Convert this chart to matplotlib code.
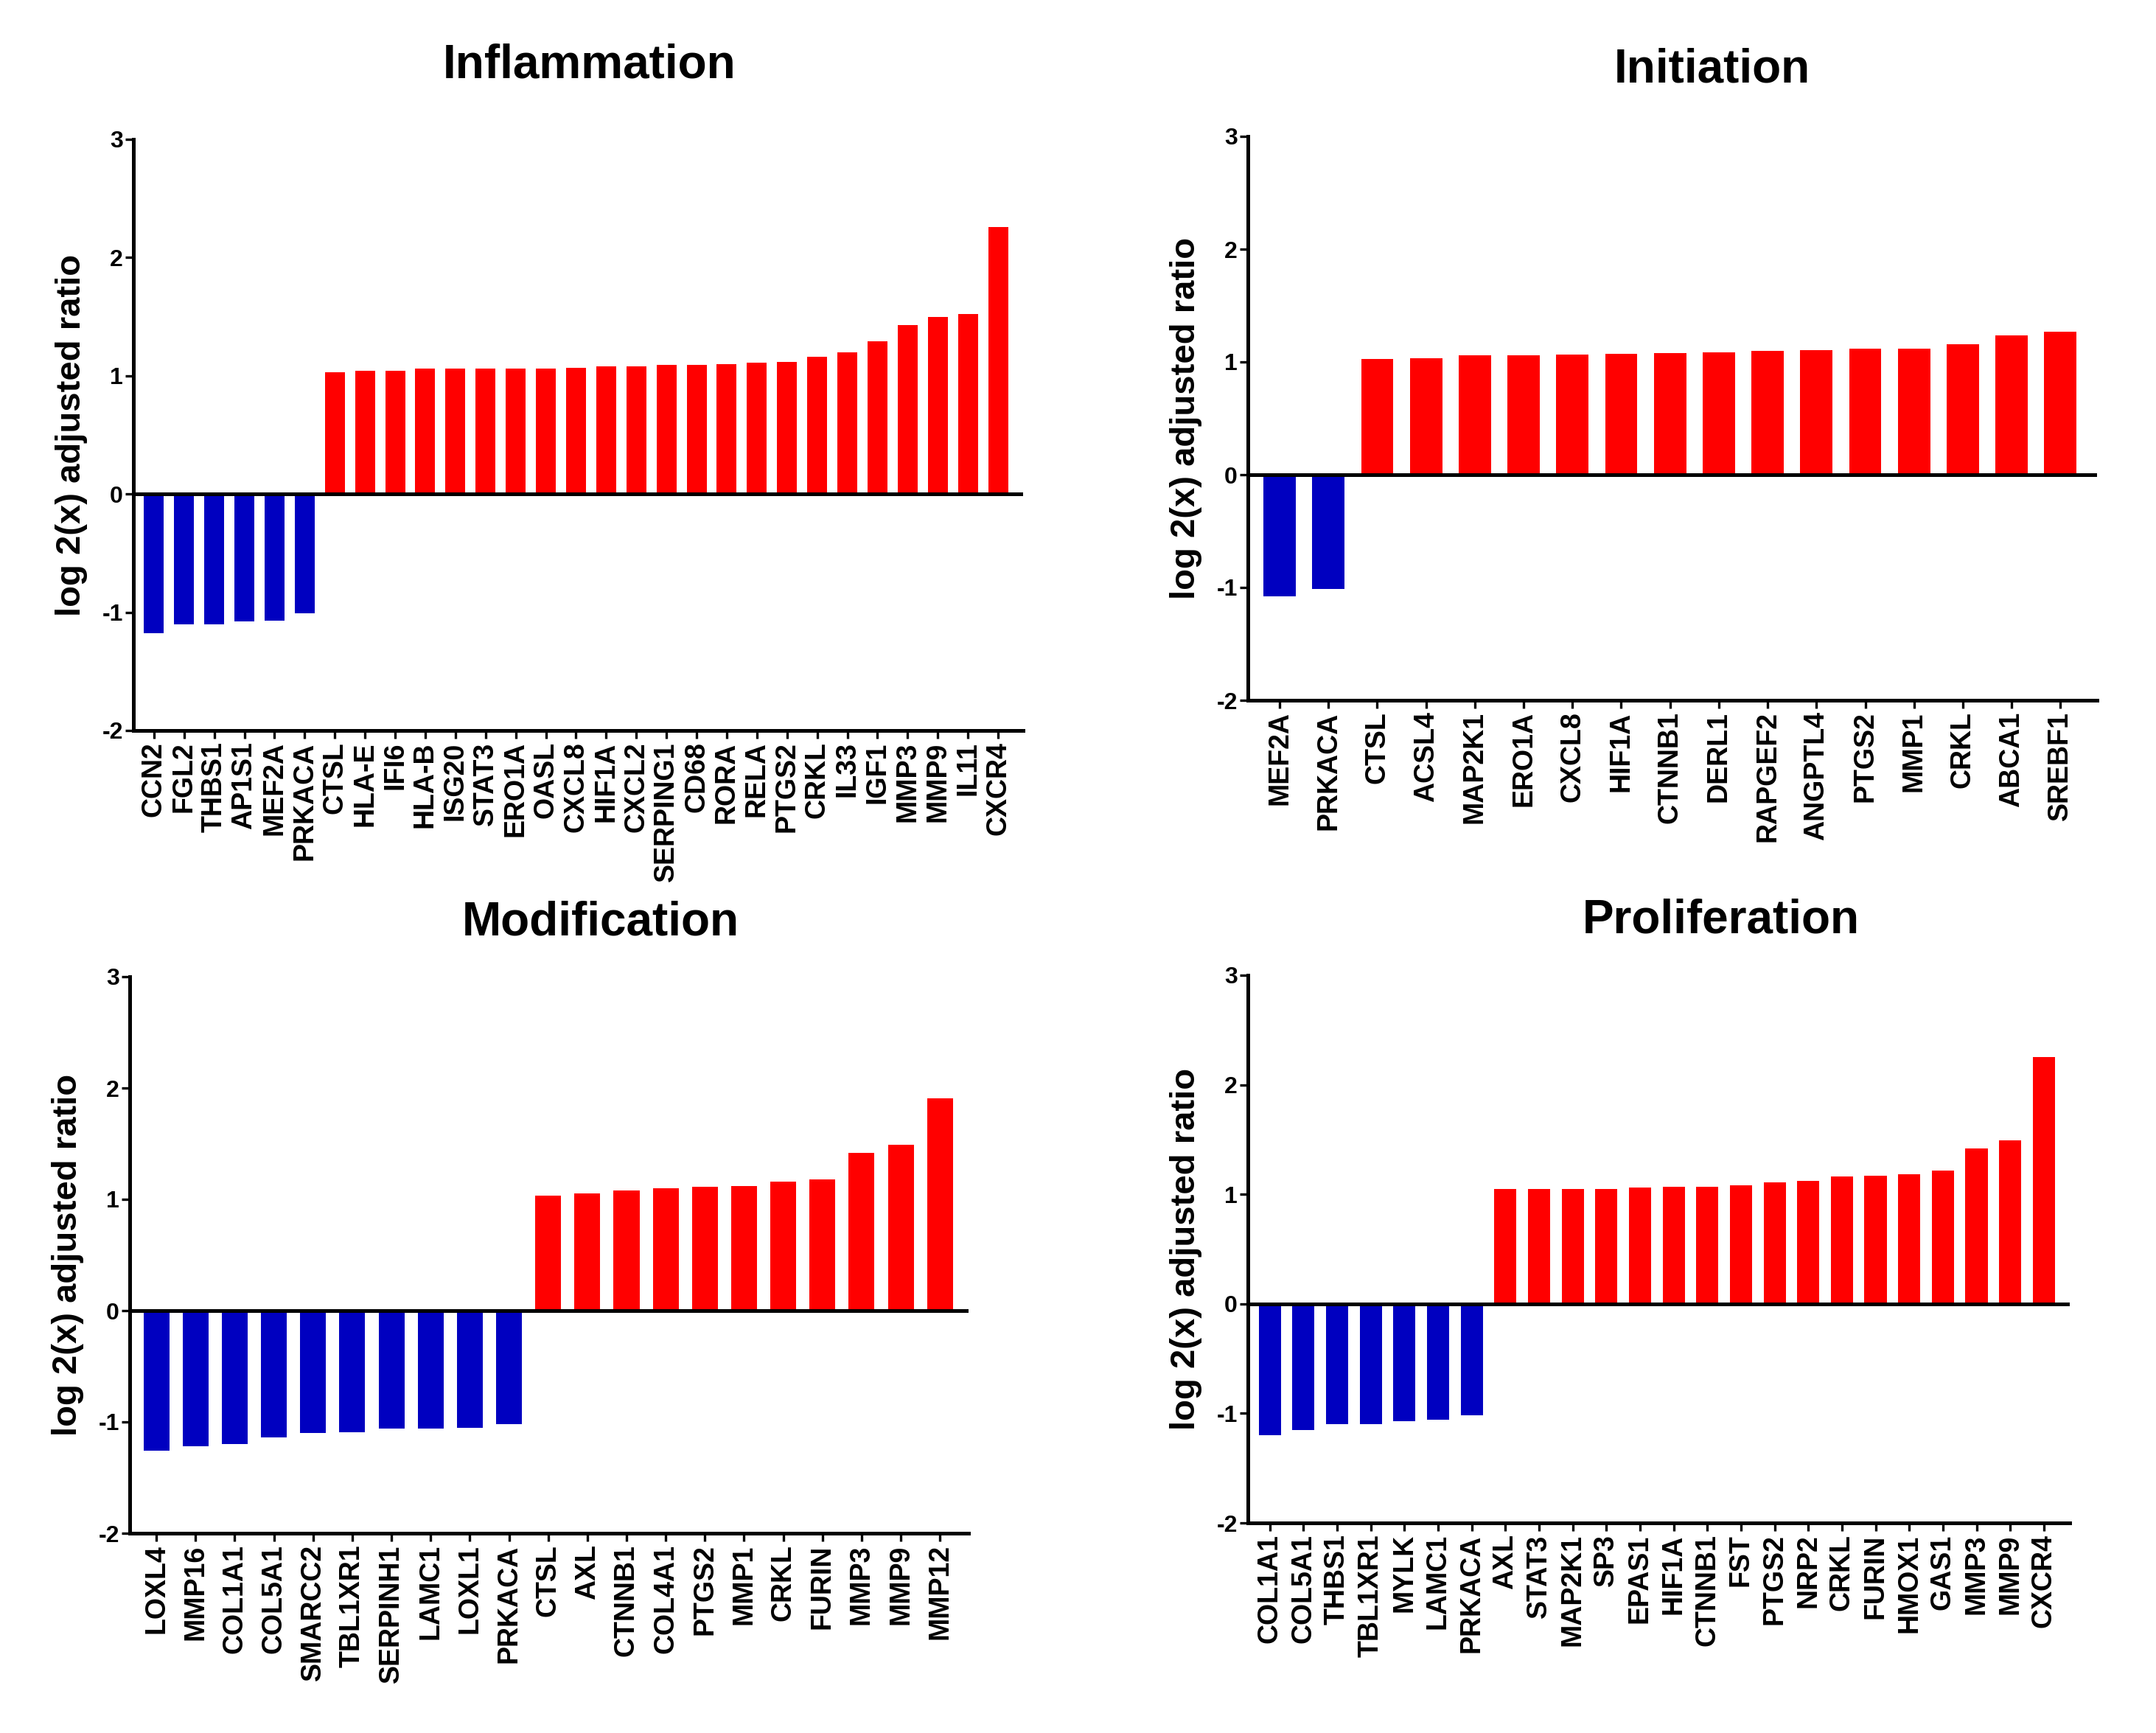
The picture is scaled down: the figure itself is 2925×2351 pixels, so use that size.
import matplotlib
matplotlib.use("Agg")
import matplotlib.pyplot as plt

plt.rcParams['axes.unicode_minus'] = False

# Datos de cada panel
infl_genes = ['CCN2', 'FGL2', 'THBS1', 'AP1S1', 'MEF2A', 'PRKACA', 'CTSL', 'HLA-E', 'IFI6',
              'HLA-B', 'ISG20', 'STAT3', 'ERO1A', 'OASL', 'CXCL8', 'HIF1A', 'CXCL2', 'SERPING1',
              'CD68', 'RORA', 'RELA', 'PTGS2', 'CRKL', 'IL33', 'IGF1', 'MMP3', 'MMP9', 'IL11', 'CXCR4']
infl_vals = [-1.18, -1.10, -1.10, -1.08, -1.07, -1.01, 1.03, 1.04, 1.04,
             1.06, 1.06, 1.06, 1.06, 1.06, 1.07, 1.08, 1.08, 1.09,
             1.09, 1.10, 1.11, 1.12, 1.16, 1.20, 1.29, 1.43, 1.50, 1.52, 2.26]

init_genes = ['MEF2A', 'PRKACA', 'CTSL', 'ACSL4', 'MAP2K1', 'ERO1A', 'CXCL8', 'HIF1A', 'CTNNB1',
              'DERL1', 'RAPGEF2', 'ANGPTL4', 'PTGS2', 'MMP1', 'CRKL', 'ABCA1', 'SREBF1']
init_vals = [-1.08, -1.01, 1.025, 1.035, 1.057, 1.06, 1.067, 1.074, 1.078,
             1.088, 1.099, 1.106, 1.117, 1.12, 1.16, 1.237, 1.265]

mod_genes = ['LOXL4', 'MMP16', 'COL1A1', 'COL5A1', 'SMARCC2', 'TBL1XR1', 'SERPINH1', 'LAMC1',
             'LOXL1', 'PRKACA', 'CTSL', 'AXL', 'CTNNB1', 'COL4A1', 'PTGS2', 'MMP1', 'CRKL',
             'FURIN', 'MMP3', 'MMP9', 'MMP12']
mod_vals = [-1.26, -1.22, -1.20, -1.14, -1.10, -1.09, -1.06, -1.06,
            -1.05, -1.02, 1.03, 1.05, 1.08, 1.10, 1.11, 1.12, 1.16,
            1.18, 1.42, 1.49, 1.91]

prol_genes = ['COL1A1', 'COL5A1', 'THBS1', 'TBL1XR1', 'MYLK', 'LAMC1', 'PRKACA', 'AXL', 'STAT3',
              'MAP2K1', 'SP3', 'EPAS1', 'HIF1A', 'CTNNB1', 'FST', 'PTGS2', 'NRP2', 'CRKL',
              'FURIN', 'HMOX1', 'GAS1', 'MMP3', 'MMP9', 'CXCR4']
prol_vals = [-1.20, -1.15, -1.10, -1.10, -1.07, -1.06, -1.02, 1.05, 1.05,
             1.05, 1.05, 1.06, 1.07, 1.07, 1.08, 1.11, 1.12, 1.16,
             1.17, 1.18, 1.22, 1.42, 1.49, 2.25]

titles = ['Inflammation', 'Initiation', 'Modification', 'Proliferation']

# Posiciones en pixeles: x izq, y abajo, x der, y arriba
W, H = 2925, 2351
boxes = [
    (181, 991, 1388, 189),
    (1693, 950, 2845, 185),
    (176, 2080, 1314, 1325),
    (1693, 2066, 2808, 1323),
]
pads = [(0.68, 0.83), (0.65, 0.75), (0.68, 0.73), (0.65, 0.77)]
title_pos = [(601, 106), (2190, 112), (627, 1268), (2147, 1266)]

bold_font = ['Liberation Sans', 'DejaVu Sans']

fig = plt.figure(figsize=(W / 100, H / 100), dpi=100)

data = [(infl_genes, infl_vals), (init_genes, init_vals), (mod_genes, mod_vals), (prol_genes, prol_vals)]

for i, (genes, vals) in enumerate(data):
    x0, yb, x1, yt = boxes[i]
    ax = fig.add_axes([x0 / W, 1 - yb / H, (x1 - x0) / W, (yb - yt) / H])
    colors = ['#0000C0' if v < 0 else '#FF0000' for v in vals]
    ax.bar(range(len(genes)), vals, width=0.66, color=colors, zorder=2)
    ax.axhline(0, color='black', lw=3.6, zorder=3)

    ax.set_xlim(-pads[i][0], len(genes) - 1 + pads[i][1])
    ax.set_ylim(-2, 3)
    ax.set_yticks([-2, -1, 0, 1, 2, 3])
    ax.set_xticks(range(len(genes)))
    ax.set_xticklabels(genes, rotation=90, fontsize=27, fontweight='bold', family=bold_font)
    for lbl in ax.get_yticklabels():
        lbl.set_fontsize(23)
        lbl.set_fontweight('bold')
        lbl.set_family(bold_font)

    ax.spines['top'].set_visible(False)
    ax.spines['right'].set_visible(False)
    ax.spines['left'].set_linewidth(3.6)
    ax.spines['bottom'].set_linewidth(3.6)
    ax.tick_params(axis='x', length=8, width=2.4, pad=3)
    ax.tick_params(axis='y', length=8, width=2.4, pad=2)

    ax.set_ylabel('log 2(x) adjusted ratio', fontsize=34, fontweight='bold', family=bold_font)
    ax.yaxis.set_label_coords(-62 / (x1 - x0), 0.5)

    tx, ty = title_pos[i]
    fig.text(tx / W, 1 - ty / H, titles[i], fontsize=46, fontweight='bold', family=bold_font,
             ha='left', va='baseline')

plt.savefig('out.png', dpi=100)
